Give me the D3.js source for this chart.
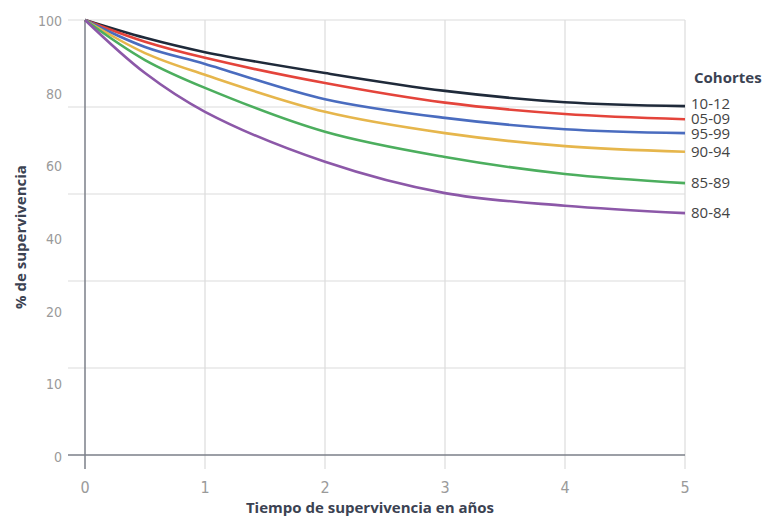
<!DOCTYPE html>
<html>
<head>
<meta charset="utf-8">
<script src="https://cdn.jsdelivr.net/npm/d3@7"></script>
<style>
  body { margin: 0; background: #fff; }
  svg { display: block; }
  .tick-lbl { font-family: "Liberation Sans Narrow", "DejaVu Sans Condensed", sans-serif; fill: #9a9a9a; }
  .title { font-family: "Open Sans", sans-serif; font-weight: 700; fill: #3b4252; }
  .cohort { font-family: "Open Sans", sans-serif; fill: #444; }
</style>
</head>
<body>
<svg id="chart" width="776" height="521"></svg>
<script>
// años
var years = [0, 0.5, 1, 2, 3, 4, 5];

// cohortes, de arriba a abajo
var cohorts = ['10-12', '05-09', '95-99', '90-94', '85-89', '80-84'];
var colors = ['#1f2a3a', '#e4443b', '#4a6cbf', '#e6b64c', '#4cae5e', '#8c58a8'];

var s_10_12 = [100, 95.9, 92.6, 87.8, 83.7, 81.1, 80.2];
var s_05_09 = [100, 95.0, 91.3, 85.5, 81.0, 78.4, 77.2];
var s_95_99 = [100, 93.8, 89.9, 81.8, 77.5, 74.9, 74.0];
var s_90_94 = [100, 92.4, 87.4, 78.9, 74.0, 71.0, 69.7];
var s_85_89 = [100, 90.8, 84.4, 74.3, 68.5, 64.6, 62.5];
var s_80_84 = [100, 87.8, 78.9, 67.4, 60.2, 57.3, 55.6];
var series = [s_10_12, s_05_09, s_95_99, s_90_94, s_85_89, s_80_84];

var x_ticks = [0, 1, 2, 3, 4, 5];
var y_grid = [0, 20, 40, 60, 80, 100];
// the labels on the left are spaced on their own
var y_labels = ['100', '80', '60', '40', '20', '10', '0'];

var svg = d3.select('#chart');
var mLeft = 85, mRight = 685, mTop = 20, mBottom = 455;

var x = d3.scaleLinear().domain([0, 5]).range([mLeft, mRight]);
var y = d3.scaleLinear().domain([0, 100]).range([mBottom, mTop]);
var yLbl = d3.scalePoint().domain(y_labels).range([mTop + 1, mBottom + 2]);

// horizontal grid
svg.append('g').selectAll('line')
    .data(y_grid.filter(function(d) { return d > 0; }))
    .enter().append('line')
    .attr('x1', 68).attr('x2', mRight)
    .attr('y1', function(d) { return y(d); })
    .attr('y2', function(d) { return y(d); })
    .style('stroke', '#dcdcdc').style('stroke-width', 1.2);

// vertical grid
svg.append('g').selectAll('line')
    .data(x_ticks.filter(function(d) { return d > 0; }))
    .enter().append('line')
    .attr('x1', function(d) { return x(d); })
    .attr('x2', function(d) { return x(d); })
    .attr('y1', mTop).attr('y2', 469)
    .style('stroke', '#dcdcdc').style('stroke-width', 1.2);

// axes
svg.append('line')
    .attr('x1', 68).attr('x2', mRight).attr('y1', y(0)).attr('y2', y(0))
    .style('stroke', '#7b7f88').style('stroke-width', 1.5);
svg.append('line')
    .attr('x1', x(0)).attr('x2', x(0)).attr('y1', mTop).attr('y2', 469)
    .style('stroke', '#7b7f88').style('stroke-width', 1.5);

// y labels
svg.append('g').selectAll('text')
    .data(y_labels)
    .enter().append('text')
    .attr('class', 'tick-lbl')
    .attr('x', 62)
    .attr('y', function(d) { return yLbl(d); })
    .attr('dy', '0.35em')
    .attr('text-anchor', 'end')
    .style('font-size', '14px')
    .text(function(d) { return d; });

// x labels
svg.append('g').selectAll('text')
    .data(x_ticks)
    .enter().append('text')
    .attr('class', 'tick-lbl')
    .attr('x', function(d) { return x(d); })
    .attr('y', 487)
    .attr('dy', '0.35em')
    .attr('text-anchor', 'middle')
    .style('font-size', '16px')
    .text(function(d) { return d; });

// curves
var line = d3.line()
    .x(function(d, i) { return x(years[i]); })
    .y(function(d) { return y(d); })
    .curve(d3.curveCatmullRom.alpha(0.5));

svg.append('g').selectAll('path')
    .data(series)
    .enter().append('path')
    .attr('d', line)
    .style('fill', 'none')
    .style('stroke', function(d, i) { return colors[i]; })
    .style('stroke-width', 2.6);

// cohort legend at the line ends
svg.append('text')
    .attr('class', 'title')
    .attr('x', 694).attr('y', 78).attr('dy', '0.35em')
    .style('font-size', '15px')
    .text('Cohortes');

// small nudges so the tight labels don't collide
var nudge = [-2, 0, 1, 0, 0, 0];
svg.append('g').selectAll('text')
    .data(cohorts)
    .enter().append('text')
    .attr('class', 'cohort')
    .attr('x', 691)
    .attr('y', function(d, i) { return y(series[i][series[i].length - 1]) + nudge[i]; })
    .attr('dy', '0.35em')
    .style('font-size', '15px')
    .text(function(d) { return d; });

// axis titles
svg.append('text')
    .attr('class', 'title')
    .attr('x', 370).attr('y', 508).attr('dy', '0.35em')
    .attr('text-anchor', 'middle')
    .style('font-size', '15px')
    .text('Tiempo de supervivencia en años');

svg.append('text')
    .attr('class', 'title')
    .attr('transform', 'translate(21,237) rotate(-90)')
    .attr('dy', '0.35em')
    .attr('text-anchor', 'middle')
    .style('font-size', '15px')
    .text('% de supervivencia');
</script>
</body>
</html>
